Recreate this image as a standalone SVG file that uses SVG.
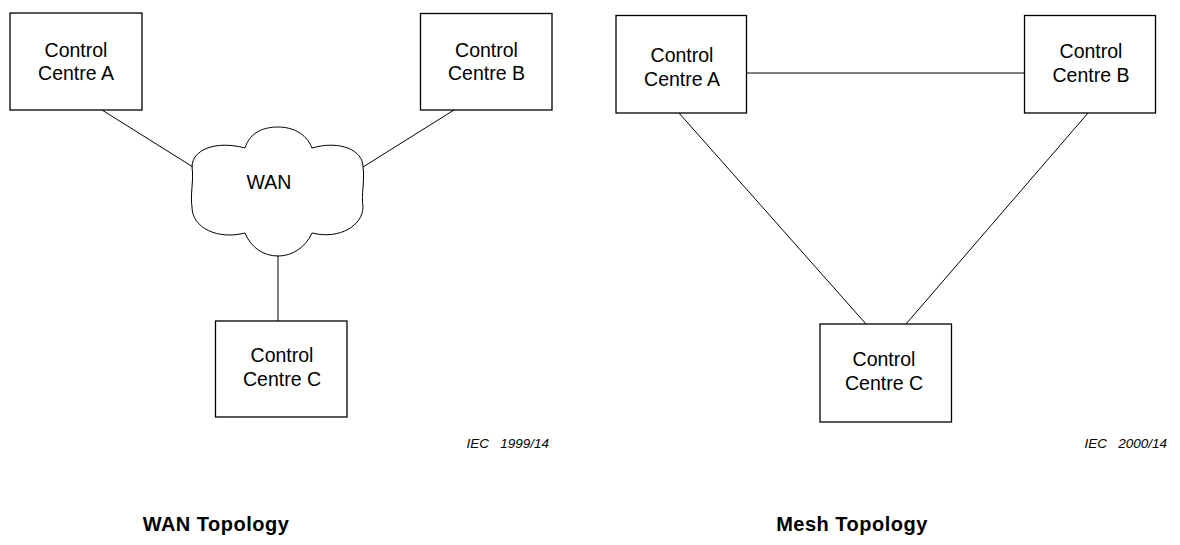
<svg xmlns="http://www.w3.org/2000/svg" width="1180" height="545" viewBox="0 0 1180 545">
<style>
.box{fill:#fff;stroke:#000;stroke-width:1.3}
.ln{stroke:#000;stroke-width:1;fill:none}
.t{font-family:"Liberation Sans",Arial,sans-serif;font-size:19.5px;fill:#000;text-anchor:middle}
.iec{font-family:"Liberation Sans",Arial,sans-serif;font-size:13.5px;font-style:italic;fill:#000;text-anchor:end;white-space:pre}
.ttl{font-family:"Liberation Sans",Arial,sans-serif;font-size:20px;font-weight:bold;fill:#000;text-anchor:middle;letter-spacing:0.5px}
</style>
<rect width="1180" height="545" fill="#fff"/>
<g id="connectors">
<line class="ln" x1="102" y1="110" x2="193" y2="167"/>
<line class="ln" x1="454" y1="110" x2="363" y2="167"/>
<line class="ln" x1="278" y1="256" x2="278" y2="321"/>
<line class="ln" x1="747" y1="73" x2="1025" y2="73"/>
<line class="ln" x1="679" y1="113" x2="866" y2="324"/>
<line class="ln" x1="1088" y1="113" x2="906" y2="324"/>
</g>
<g id="wan-a">
<rect class="box" x="10" y="13" width="132" height="97"/>
<text class="t" x="76" y="57">Control</text>
<text class="t" x="76" y="80">Centre A</text>
</g>
<g id="wan-b">
<rect class="box" x="420.5" y="13.5" width="131.5" height="96.5"/>
<text class="t" x="486.5" y="57">Control</text>
<text class="t" x="486.5" y="80">Centre B</text>
</g>
<g id="wan-cloud">
<path class="ln" d="M192,167 C192,150 215,140 245,148 C250,132 264,127 278,127 C292,127 306,133 312,148 C340,140 363,150 363,167 C365,180 361,195 363,207 C363,225 340,240 312,233 C305,248 292,256 278,256 C264,256 251,248 245,233 C218,240 192,228 192,207 C190,194 194,180 192,167 Z" fill="#fff"/>
<text class="t" x="269" y="189">WAN</text>
</g>
<g id="wan-c">
<rect class="box" x="215.5" y="321" width="131.5" height="96"/>
<text class="t" x="282" y="362">Control</text>
<text class="t" x="282" y="386">Centre C</text>
</g>
<g id="mesh-a">
<rect class="box" x="616" y="15.5" width="130.5" height="97.5"/>
<text class="t" x="682" y="62">Control</text>
<text class="t" x="682" y="86">Centre A</text>
</g>
<g id="mesh-b">
<rect class="box" x="1024.5" y="15.5" width="131" height="97.5"/>
<text class="t" x="1091" y="58">Control</text>
<text class="t" x="1091" y="82">Centre B</text>
</g>
<g id="mesh-c">
<rect class="box" x="820" y="324" width="131.5" height="98"/>
<text class="t" x="884" y="366">Control</text>
<text class="t" x="884" y="390">Centre C</text>
</g>
<text class="iec" x="549" y="448" xml:space="preserve">IEC   1999/14</text>
<text class="iec" x="1167" y="448" xml:space="preserve">IEC   2000/14</text>
<text class="ttl" x="216" y="531">WAN Topology</text>
<text class="ttl" x="852" y="531">Mesh Topology</text>
</svg>
